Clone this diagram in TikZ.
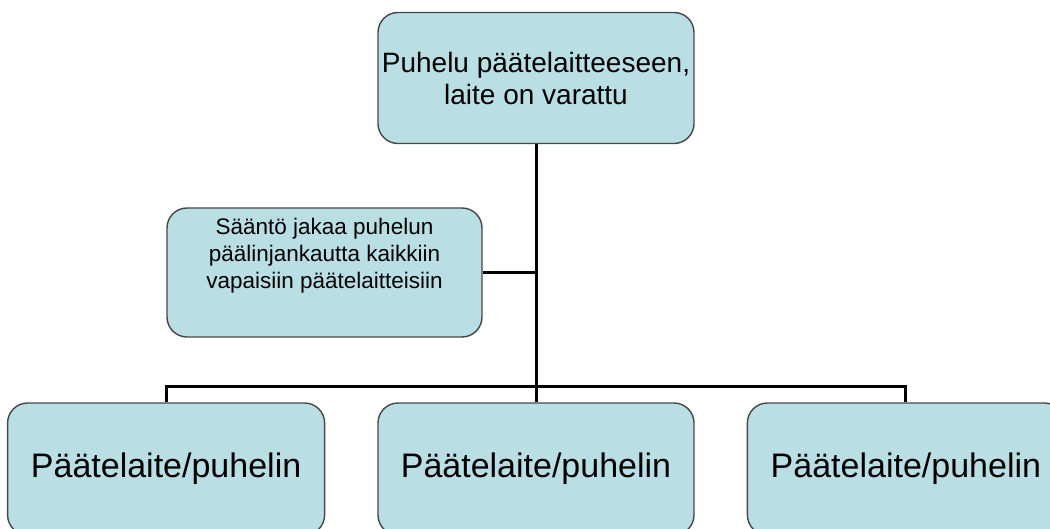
\documentclass[tikz,border=0pt]{standalone}
\usepackage{fontspec}
\setmainfont{Liberation Sans}
\usetikzlibrary{positioning}
\definecolor{laitesin}{RGB}{185,223,228}
\definecolor{reuna}{RGB}{70,70,70}

\tikzset{
  laite/.style={draw=reuna, line width=1.4pt, rounded corners=20pt, fill=laitesin,
    align=center, inner sep=0pt},
  yhteys/.style={draw=black, line width=3pt}
}

\begin{document}
\begin{tikzpicture}[x=1pt, y=-1pt]
  \useasboundingbox (0,0) rectangle (1050,529);

  \node (puhelu) [laite, minimum width=316pt, minimum height=131pt,
    font=\fontsize{28}{32}\selectfont] at (536,78)
  {Puhelu päätelaitteeseen,\\laite on varattu};
  \node (saanto) [laite, minimum width=315pt, minimum height=129pt,
    font=\fontsize{22.5}{27}\selectfont] at (324.5,272.5)
  {Sääntö jakaa puhelun\\päälinjankautta kaikkiin\\vapaisiin päätelaitteisiin\\[12pt] \mbox{}};

  \node (laite2) [laite, minimum width=316pt, minimum height=132pt,
    font=\fontsize{34}{40}\selectfont] at (536,469) {Päätelaite/puhelin};
  \node (laite1) [laite, minimum width=317pt, minimum height=132pt,
    font=\fontsize{34}{40}\selectfont, left=52pt of laite2] {Päätelaite/puhelin};
  \node (laite3) [laite, minimum width=317pt, minimum height=132pt,
    font=\fontsize{34}{40}\selectfont, right=52pt of laite2] {Päätelaite/puhelin};

  \coordinate (haara) at (536,387);

  \draw[yhteys] (puhelu.south) -- (laite2.north);
  \draw[yhteys] (saanto.east) -- (saanto.east -| puhelu.south);
  \draw[yhteys] (laite1.north) -- (laite1.north |- haara) -- (laite3.north |- haara) -- (laite3.north);
\end{tikzpicture}
\end{document}
